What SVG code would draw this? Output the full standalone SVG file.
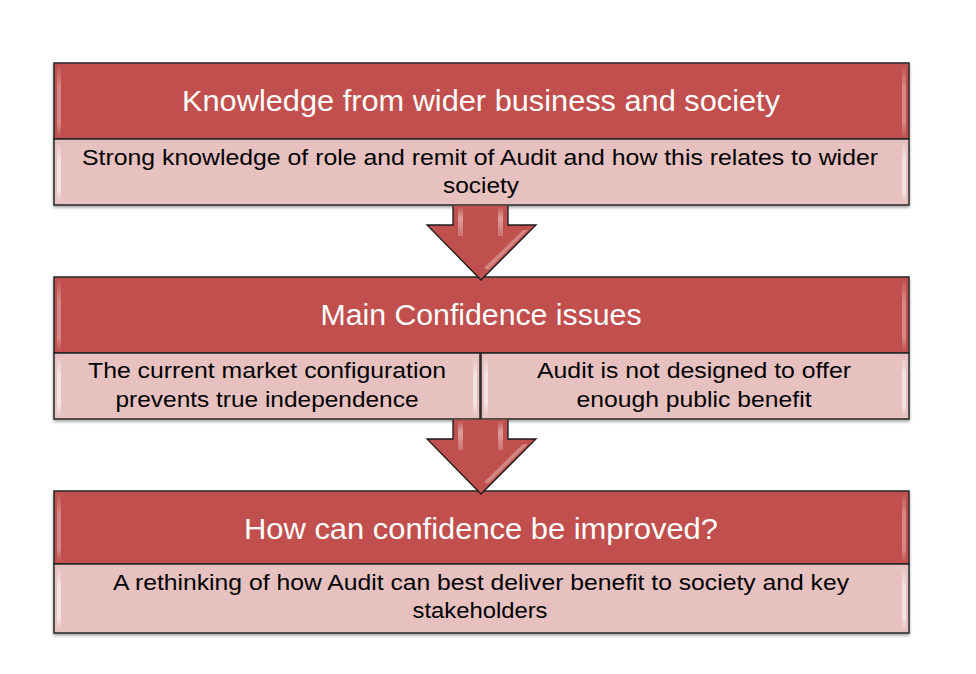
<svg xmlns="http://www.w3.org/2000/svg" width="976" height="674" viewBox="0 0 976 674">
  <defs>
    <filter id="shadow" x="-5%" y="-10%" width="110%" height="125%">
      <feDropShadow dx="0" dy="2" stdDeviation="1.5" flood-color="#000" flood-opacity="0.35"/>
    </filter>
    <linearGradient id="vfade" x1="0" y1="0" x2="0" y2="1">
      <stop offset="0" stop-color="#fff" stop-opacity="0.1"/>
      <stop offset="0.3" stop-color="#fff" stop-opacity="0.55"/>
      <stop offset="0.8" stop-color="#fff" stop-opacity="0.55"/>
      <stop offset="1" stop-color="#fff" stop-opacity="0.05"/>
    </linearGradient>
    <linearGradient id="shaftHi" x1="0" y1="0" x2="0" y2="1">
      <stop offset="0" stop-color="#fff" stop-opacity="0"/>
      <stop offset="0.4" stop-color="#fff" stop-opacity="0.45"/>
      <stop offset="1" stop-color="#fff" stop-opacity="0.2"/>
    </linearGradient>
    <style>
      .hdr { fill: #C0504D; stroke: #262626; stroke-width: 1.5; }
      .body { fill: #E6C1C0; stroke: #262626; stroke-width: 1.5; }
      .hi { fill: url(#vfade); }
      .title { font-family: "Liberation Sans", Arial, sans-serif; font-size: 29px; fill: #FFFFFF; text-anchor: middle; }
      .txt { font-family: "Liberation Sans", Arial, sans-serif; font-size: 22px; fill: #000000; text-anchor: middle; }
      .arrow { fill: #C0504D; stroke: #1a1a1a; stroke-width: 1.3; stroke-linejoin: miter; }
      .ahi { fill: url(#shaftHi); }
    </style>
  </defs>

  <rect width="976" height="674" fill="#FFFFFF"/>

  <g id="node-knowledge">
    <g filter="url(#shadow)">
      <rect class="hdr" x="54" y="63" width="855" height="76"/>
      <rect class="body" x="54" y="139" width="855" height="66"/>
    </g>
    <rect class="hi" x="57" y="67" width="4" height="70" opacity="0.6"/>
    <rect class="hi" x="902" y="67" width="4" height="70" opacity="0.6"/>
    <rect class="hi" x="57" y="144" width="4" height="58"/>
    <rect class="hi" x="902" y="144" width="4" height="58"/>
    <text class="title" x="481" y="111" textLength="598" lengthAdjust="spacingAndGlyphs">Knowledge from wider business and society</text>
    <text class="txt" x="480" y="165" textLength="796" lengthAdjust="spacingAndGlyphs">Strong knowledge of role and remit of Audit and how this relates to wider</text>
    <text class="txt" x="481" y="193" textLength="76" lengthAdjust="spacingAndGlyphs">society</text>
  </g>

  <g id="node-confidence">
    <g filter="url(#shadow)">
      <rect class="hdr" x="54" y="277" width="855" height="76"/>
      <rect class="body" x="54" y="353" width="426" height="66"/>
      <rect class="body" x="481" y="353" width="428" height="66"/>
    </g>
    <rect class="hi" x="57" y="281" width="4" height="70" opacity="0.6"/>
    <rect class="hi" x="902" y="281" width="4" height="70" opacity="0.6"/>
    <rect class="hi" x="57" y="358" width="4" height="58"/>
    <rect class="hi" x="473" y="358" width="4" height="58"/>
    <rect class="hi" x="484" y="358" width="4" height="58"/>
    <rect class="hi" x="902" y="358" width="4" height="58"/>
    <text class="title" x="481" y="325" textLength="321" lengthAdjust="spacingAndGlyphs">Main Confidence issues</text>
    <text class="txt" x="267" y="378" textLength="358" lengthAdjust="spacingAndGlyphs">The current market configuration</text>
    <text class="txt" x="267" y="407" textLength="303" lengthAdjust="spacingAndGlyphs">prevents true independence</text>
    <text class="txt" x="694" y="378" textLength="314" lengthAdjust="spacingAndGlyphs">Audit is not designed to offer</text>
    <text class="txt" x="694" y="407" textLength="235" lengthAdjust="spacingAndGlyphs">enough public benefit</text>
  </g>

  <g id="node-improved">
    <g filter="url(#shadow)">
      <rect class="hdr" x="54" y="491" width="855" height="73"/>
      <rect class="body" x="54" y="564" width="855" height="69"/>
    </g>
    <rect class="hi" x="57" y="495" width="4" height="67" opacity="0.6"/>
    <rect class="hi" x="902" y="495" width="4" height="67" opacity="0.6"/>
    <rect class="hi" x="57" y="569" width="4" height="60"/>
    <rect class="hi" x="902" y="569" width="4" height="60"/>
    <text class="title" x="481" y="539" textLength="474" lengthAdjust="spacingAndGlyphs">How can confidence be improved?</text>
    <text class="txt" x="481" y="590" textLength="736" lengthAdjust="spacingAndGlyphs">A rethinking of how Audit can best deliver benefit to society and key</text>
    <text class="txt" x="480" y="618" textLength="135" lengthAdjust="spacingAndGlyphs">stakeholders</text>
  </g>

  <g id="connectors">
    <g id="arrow-1">
      <path class="arrow" d="M453,205.8 V225 H427 L481,280 L536,225 H508 V205.8"/>
      <rect class="ahi" x="458" y="206" width="5" height="30"/>
      <rect class="ahi" x="498" y="206" width="5" height="30"/>
      <path d="M528,230 L488,270 L484,268 L523,230 Z" fill="#fff" opacity="0.3"/>
    </g>
    <g id="arrow-2">
      <path class="arrow" d="M453,419.8 V439 H427 L481,494 L536,439 H508 V419.8"/>
      <rect class="ahi" x="458" y="420" width="5" height="30"/>
      <rect class="ahi" x="498" y="420" width="5" height="30"/>
      <path d="M528,444 L488,484 L484,482 L523,444 Z" fill="#fff" opacity="0.3"/>
    </g>
  </g>
</svg>
